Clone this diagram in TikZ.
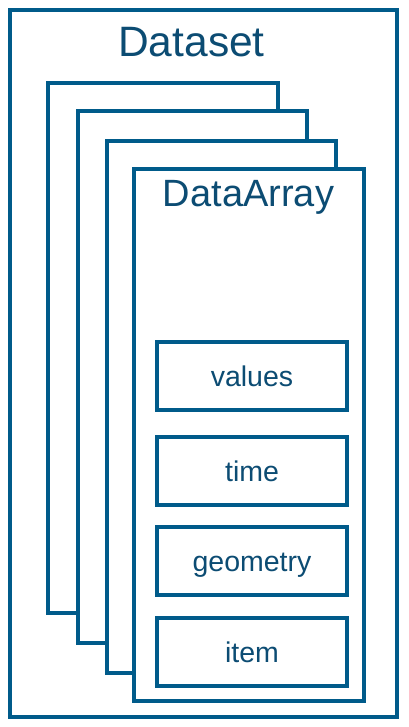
\documentclass[tikz,border=0pt]{standalone}
\usepackage{fontspec}
\setmainfont{Liberation Sans}
\usepackage{tikz}
\definecolor{dsblue}{RGB}{0,91,138}
\definecolor{dstext}{RGB}{12,76,115}

\begin{document}
\begin{tikzpicture}[x=1pt,y=-1pt,line width=4pt,
  frame/.style={draw=dsblue,fill=white,rectangle,inner sep=0pt,line join=miter},
  field/.style={frame,minimum width=190pt,minimum height=68pt,text height=20pt,text depth=0pt,
    font=\fontsize{28.5}{31}\selectfont,text=dstext},
  title/.style={anchor=base,text=dstext,inner sep=0pt}]
\useasboundingbox (0,0) rectangle (408,727);

\node[frame,minimum width=387pt,minimum height=707pt](ds) at (203.5,363.5) {};
\node[title,font=\fontsize{42.5}{46}\selectfont](dst) at (191.5,57) {Dataset};

% stacked arrays, back to front
\node[frame,minimum width=230pt,minimum height=530pt](a1) at (163,348) {};
\node[frame,minimum width=229pt,minimum height=532pt](a2) at (192.5,377) {};
\node[frame,minimum width=229pt,minimum height=532pt](a3) at (221.5,407) {};
\node[frame,minimum width=230pt,minimum height=532pt](a4) at (249,435) {};
\node[title,font=\fontsize{38}{41}\selectfont](dat) at (248.5,207) {DataArray};

\node[field](f1) at (252,376) {values};
\node[field](f2) at (252,471) {time};
\node[field](f3) at (252,561) {geometry};
\node[field](f4) at (252,652) {item};
\end{tikzpicture}
\end{document}
